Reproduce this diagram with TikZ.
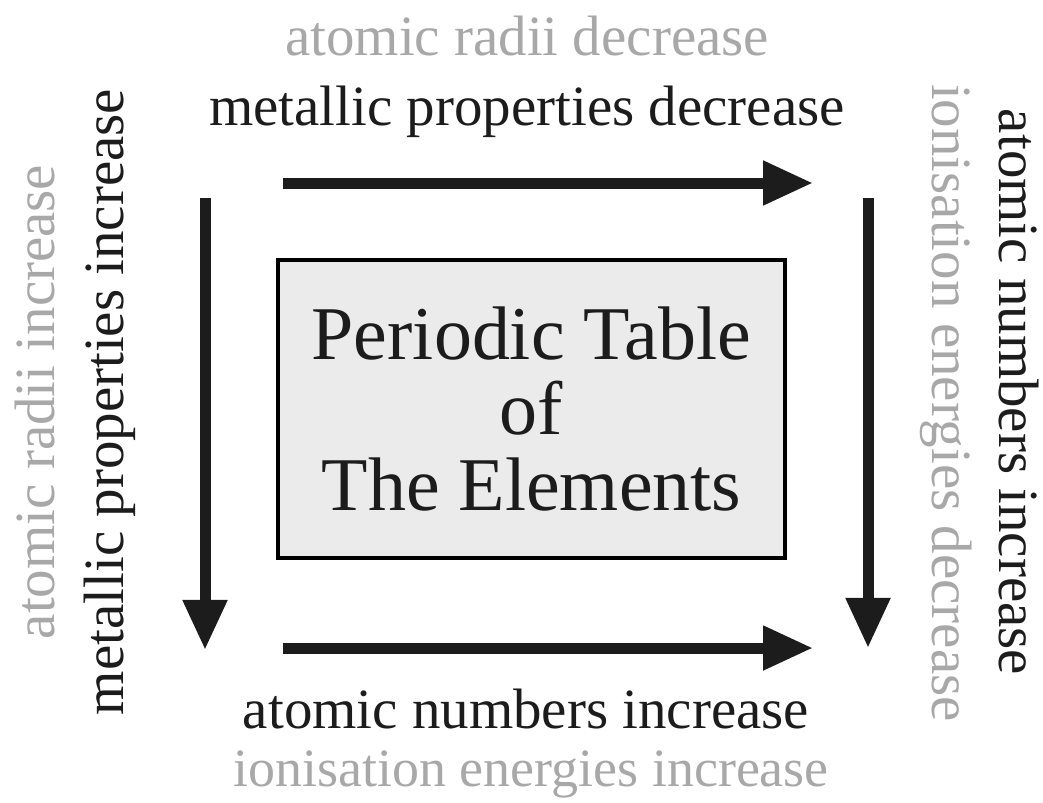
\documentclass[tikz,border=0pt]{standalone}
\usepackage{fontspec}
\setmainfont{Liberation Serif}
\usetikzlibrary{arrows.meta}
\definecolor{txtgray}{HTML}{A8A8A8}
\definecolor{inkdark}{HTML}{1C1C1C}
\definecolor{boxfill}{HTML}{EBEBEB}
\tikzset{
    trend/.style={draw=inkdark, line width=0.275cm, -{Triangle[length=1.25cm, width=1.05cm]}},
    mainlbl/.style={anchor=base, inner sep=0pt, text=inkdark, font=\fontsize{40.5}{48}\selectfont},
    sidelbl/.style={mainlbl, text=txtgray},
    tablebox/.style={draw=black, line width=0.08cm, fill=boxfill, minimum width=12.675cm, minimum height=7.45cm, align=center, text=inkdark, font=\fontsize{54}{54}\selectfont}
}
\begin{document}
\begin{tikzpicture}[x=0.025cm, y=-0.025cm]
    \useasboundingbox (0,0) rectangle (1043,802);
    % centre box
    \node[tablebox] (table) at (531.5,409) {Periodic Table\\of\\The Elements};
    % arrow ends
    \coordinate (topS) at (283,183);
    \coordinate (topE) at (813,183);
    \coordinate (botS) at (283,648);
    \coordinate (botE) at (813,648);
    \coordinate (leftS) at (205,198);
    \coordinate (leftE) at (205,650);
    \coordinate (rightS) at (868,198);
    \coordinate (rightE) at (868,648);
    \draw[trend] (topS) -- (topE);
    \draw[trend] (botS) -- (botE);
    \draw[trend] (leftS) -- (leftE);
    \draw[trend] (rightS) -- (rightE);
    % labels
    \node[sidelbl] (radiiT) at (527,55) {atomic radii decrease};
    \node[mainlbl] (metalT) at (527,125) {metallic properties decrease};
    \node[mainlbl] (numB) at (526,728) {atomic numbers increase};
    \node[sidelbl, font=\fontsize{38.4}{46}\selectfont] (ionB) at (531,786) {ionisation energies increase};
    \node[sidelbl, rotate=90] (radiiL) at (54,402) {atomic radii increase};
    \node[mainlbl, rotate=90] (metalL) at (123,402) {metallic properties increase};
    \node[sidelbl, rotate=-90] (ionR) at (932,403) {ionisation energies decrease};
    \node[mainlbl, rotate=-90] (numR) at (999,392) {atomic numbers increase};
\end{tikzpicture}
\end{document}
